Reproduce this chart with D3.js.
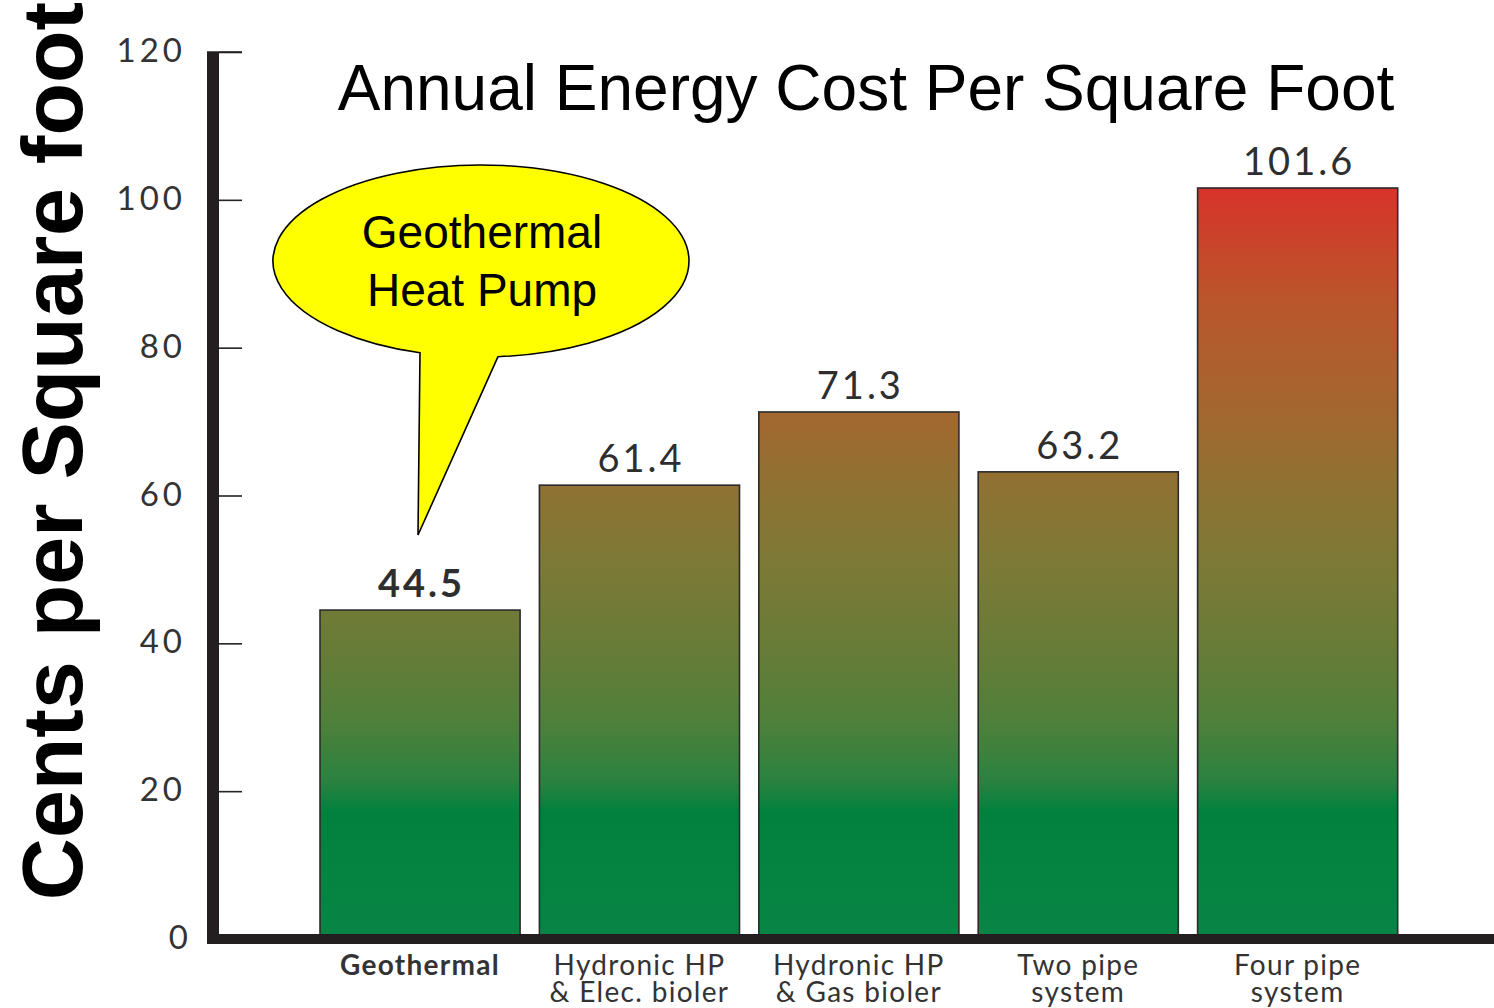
<!DOCTYPE html>
<html>
<head>
<meta charset="utf-8">
<script src="https://cdn.jsdelivr.net/npm/d3@7"></script>
<style>
  html, body { margin: 0; padding: 0; background: #fff; }
  svg { display: block; }
</style>
</head>
<body>
<svg id="chart" width="1494" height="1008"></svg>
<script>
// Annual energy cost per square foot, by system type (cents)
const categories = ["Geothermal", "Hydronic HP & Elec. bioler", "Hydronic HP & Gas bioler", "Two pipe system", "Four pipe system"];
const categoryLines = [["Geothermal"], ["Hydronic HP", "& Elec. bioler"], ["Hydronic HP", "& Gas bioler"], ["Two pipe", "system"], ["Four pipe", "system"]];
const costs = [44.5, 61.4, 71.3, 63.2, 101.6];
const valueLabels = ["44.5", "61.4", "71.3", "63.2", "101.6"];
const yTicks = [0, 20, 40, 60, 80, 100, 120];

const svg = d3.select("#chart");
const W = 1494, H = 1008;

const x = d3.scaleBand()
  .domain(categories)
  .range([310.35, 1407.35])
  .paddingInner(0.088)
  .paddingOuter(0.044);

const y = d3.scaleLinear().domain([0, 120]).range([939, 52]);

// Shared vertical gradient: green at the base turning to red at the top
const defs = svg.append("defs");
const grad = defs.append("linearGradient")
  .attr("id", "costGrad")
  .attr("gradientUnits", "userSpaceOnUse")
  .attr("x1", 0).attr("x2", 0)
  .attr("y1", y(0)).attr("y2", y(101.6));
[
  [0.00, "#088544"],
  [0.17, "#02813e"],
  [0.21, "#2a8240"],
  [0.29, "#4f803a"],
  [0.38, "#667c38"],
  [0.50, "#7d7936"],
  [0.60, "#8e7233"],
  [0.70, "#a3672f"],
  [0.85, "#ba562b"],
  [1.00, "#d8332a"]
].forEach(([o, c]) => grad.append("stop").attr("offset", o).attr("stop-color", c));

// Bars
svg.append("g").selectAll("rect")
  .data(costs)
  .join("rect")
  .attr("x", (d, i) => x(categories[i]))
  .attr("y", d => y(d))
  .attr("width", x.bandwidth())
  .attr("height", d => y(0) - y(d))
  .attr("fill", "url(#costGrad)")
  .attr("stroke", "#2b2b2b")
  .attr("stroke-width", 1.6);

// Value labels above bars
svg.append("g").selectAll("text")
  .data(costs)
  .join("text")
  .attr("x", (d, i) => x(categories[i]) + x.bandwidth() / 2 + 1.5)
  .attr("y", d => y(d) - 13)
  .attr("text-anchor", "middle")
  .attr("font-family", "Lato, 'Open Sans', sans-serif")
  .attr("font-size", 38)
  .attr("font-weight", (d, i) => i === 0 ? 700 : 400)
  .attr("letter-spacing", 3)
  .attr("fill", "#2e2e2e")
  .text((d, i) => valueLabels[i]);

// Y axis built with d3.axisRight, restyled to a thick bar with short ticks
const yAxis = svg.append("g")
  .attr("transform", "translate(219,0)")
  .call(d3.axisRight(y).tickValues(yTicks).tickSize(23).tickFormat(""));
yAxis.select(".domain").remove();
yAxis.selectAll(".tick line").attr("stroke", "#222").attr("stroke-width", 1.6);

svg.append("g")
  .selectAll("text")
  .data(yTicks)
  .join("text")
  .attr("x", d => d === 0 ? 192 : 186)
  .attr("y", d => y(d) + 10)
  .attr("text-anchor", "end")
  .attr("font-family", "Lato, 'Open Sans', sans-serif")
  .attr("font-size", 33)
  .attr("letter-spacing", 4)
  .attr("fill", "#333")
  .text(d => d);

// Top cap of the axis
svg.append("line")
  .attr("x1", 207).attr("x2", 242)
  .attr("y1", y(120)).attr("y2", y(120))
  .attr("stroke", "#222").attr("stroke-width", 1.6);

// Thick axis bars
svg.append("rect").attr("x", 207).attr("y", y(120)).attr("width", 12).attr("height", 944 - y(120)).attr("fill", "#231f20");
svg.append("rect").attr("x", 207).attr("y", 934).attr("width", W - 207).attr("height", 10).attr("fill", "#231f20");

// Category labels
const catG = svg.append("g");
categoryLines.forEach((lines, i) => {
  const cx = x(categories[i]) + x.bandwidth() / 2;
  const t = catG.append("text")
    .attr("text-anchor", "middle")
    .attr("font-family", "Lato, 'Open Sans', sans-serif")
    .attr("font-size", 28)
    .attr("letter-spacing", 1.3)
    .attr("font-weight", i === 0 ? 700 : 400)
    .attr("fill", "#333");
  lines.forEach((ln, j) => {
    t.append("tspan").attr("x", cx).attr("y", 975 + j * 27).text(ln);
  });
});

// Chart title
svg.append("text")
  .attr("x", 866).attr("y", 110)
  .attr("text-anchor", "middle")
  .attr("font-family", "'Liberation Sans', Arial, sans-serif")
  .attr("font-size", 64)
  .attr("fill", "#000")
  .text("Annual Energy Cost Per Square Foot");

// Y axis title
svg.append("text")
  .attr("transform", "translate(82,451) rotate(-90)")
  .attr("text-anchor", "middle")
  .attr("font-family", "'Liberation Sans', Arial, sans-serif")
  .attr("font-weight", 700)
  .attr("font-size", 86)
  .attr("fill", "#000")
  .text("Cents per Square foot");

// Speech-bubble callout pointing at the geothermal bar
const cx0 = 481, cy0 = 261, rx = 208, ry = 96;
const angA = Math.acos((420 - cx0) / rx);
const angB = Math.acos((498 - cx0) / rx);
const pA = [cx0 + rx * Math.cos(angA), cy0 + ry * Math.sin(angA)];
const pB = [cx0 + rx * Math.cos(angB), cy0 + ry * Math.sin(angB)];
const tip = [418, 535];
// tail down to the tip, then the long way round the ellipse
const bubblePath = `M${pB[0]},${pB[1]} L${tip[0]},${tip[1]} L${pA[0]},${pA[1]} A${rx},${ry} 0 1 1 ${pB[0]},${pB[1]} Z`;
svg.append("path")
  .attr("d", bubblePath)
  .attr("fill", "#ffff00")
  .attr("stroke", "#000")
  .attr("stroke-width", 1.6)
  .attr("stroke-linejoin", "miter");

svg.append("text")
  .attr("text-anchor", "middle")
  .attr("font-family", "'Liberation Sans', Arial, sans-serif")
  .attr("font-size", 46)
  .attr("fill", "#000")
  .selectAll("tspan")
  .data(["Geothermal", "Heat Pump"])
  .join("tspan")
  .attr("x", 482)
  .attr("y", (d, i) => 248 + i * 58)
  .text(d => d);
</script>
</body>
</html>
